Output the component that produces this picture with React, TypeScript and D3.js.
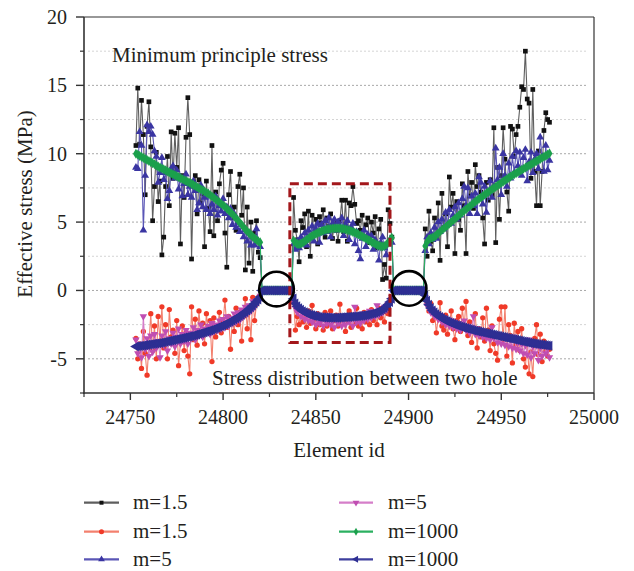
import React from "react";
import * as d3 from "d3";

// ---------- axes ----------
const X_DOMAIN = [24725, 25000];
const Y_DOMAIN = [-7.5, 20];
const X_TICKS = [24750, 24800, 24850, 24900, 24950, 25000];
const X_MINOR = [24725, 24775, 24825, 24875, 24925, 24975];
const Y_TICKS = [-5, 0, 5, 10, 15, 20];
const Y_MINOR = [-7.5, -2.5, 2.5, 7.5, 12.5, 17.5];
const GRID_MAJOR = [-5, 0, 5, 10, 15];
const GRID_MINOR = [-2.5, 2.5, 7.5, 12.5, 17.5];

// ---------- element ids (consecutive element numbers) ----------
const LEFT_IDS = d3.range(24753, 24821);
const HOLE1_IDS = d3.range(24821, 24838);
const MID_IDS = d3.range(24838, 24892);
const HOLE2_IDS = d3.range(24892, 24909);
const RIGHT_IDS = d3.range(24909, 24977);

const HOLE1_ZEROS = [0, 0, 0, 0, 0, 0, 0, 0, 0, 0, 0, 0, 0, 0, 0, 0, 0];
const HOLE2_ZEROS = [0, 0, 0, 0, 0, 0, 0, 0, 0, 0, 0, 0, 0, 0, 0, 0, 0];

// ---------- m=1.5 (upper, black) ----------
const BLACK_LEFT = [10.6, 14.8, 10.7, 13.9, 11.4, 7.0, 12.0, 13.8, 10.5, 5.1, 7.6, 10.1, 6.5, 8.0, 2.6, 3.9, 7.6, 9.8, 6.2, 11.6, 8.2, 11.5, 9.0, 11.9, 3.4, 8.4, 6.8, 11.2, 14.1, 11.4, 2.3, 7.9, 8.4, 5.6, 8.1, 6.4, 7.1, 3.2, 8.0, 6.0, 4.3, 10.6, 4.0, 7.2, 5.1, 7.8, 8.8, 9.3, 4.2, 1.7, 7.0, 8.7, 5.3, 6.1, 4.4, 7.6, 8.5, 5.5, 7.5, 1.5, 6.1, 2.0, 5.0, 1.4, 4.2, 5.1, 2.8, 2.4];
const BLACK_MID = [6.8, 4.4, 3.7, 2.1, 5.1, 4.6, 5.6, 3.2, 5.8, 2.5, 5.5, 4.1, 5.2, 3.4, 5.4, 4.9, 5.9, 3.9, 5.3, 4.7, 5.6, 3.8, 5.0, 4.4, 3.6, 5.1, 6.6, 4.3, 6.6, 3.6, 6.4, 6.2, 7.6, 6.3, 4.9, 5.1, 4.4, 5.5, 3.9, 4.8, 5.3, 3.5, 5.0, 4.2, 5.4, 3.1, 4.5, 5.2, 0.8, 1.9, 0.9, 5.9, 4.9, 3.9];
const BLACK_RIGHT = [4.5, 2.5, 5.8, 3.6, 2.9, 5.3, 3.9, 6.4, 2.2, 7.1, 4.6, 5.6, 3.2, 8.3, 6.1, 7.1, 2.7, 6.5, 5.2, 4.4, 7.8, 6.2, 2.7, 8.7, 6.9, 7.9, 6.0, 9.2, 7.6, 8.4, 7.2, 5.3, 3.4, 7.9, 6.6, 8.1, 7.0, 11.9, 3.5, 9.0, 5.2, 8.4, 11.9, 9.6, 7.2, 5.8, 12.0, 11.8, 9.8, 11.4, 12.0, 13.4, 14.9, 14.7, 17.5, 14.0, 13.7, 8.2, 14.7, 8.7, 6.2, 10.2, 6.2, 8.7, 11.7, 13.0, 12.5, 12.3];

// ---------- m=1.5 (lower, red) ----------
const RED_LEFT = [-3.5, -5.0, -3.9, -5.7, -3.0, -4.6, -6.2, -4.0, -1.7, -4.4, -2.6, -5.0, -1.9, -3.7, -1.2, -4.2, -2.5, -5.0, -1.4, -3.4, -2.9, -4.6, -2.2, -5.5, -3.8, -2.6, -4.4, -3.1, -4.8, -6.1, -1.2, -3.6, -2.1, -4.0, -1.5, -3.3, -2.4, -3.9, -1.7, -3.0, -2.2, -5.2, -2.0, -3.4, -2.8, -1.6, -3.1, -2.3, -0.7, -2.7, -1.9, -4.3, -2.1, -3.0, -1.3, -2.5, -1.6, -3.7, -1.9, -0.6, -2.8, -1.4, -3.6, -0.5, -2.2, -1.0, -0.5, -0.6];
const RED_MID = [-0.7, -2.9, -1.9, -2.5, -1.4, -2.3, -2.0, -2.7, -1.5, -2.4, -1.1, -2.2, -2.8, -1.7, -2.5, -2.0, -2.9, -1.6, -2.6, -2.1, -1.5, -2.8, -2.2, -1.8, -2.6, -1.0, -2.4, -1.9, -3.0, -2.2, -1.5, -2.7, -1.8, -2.4, -1.3, -2.6, -2.0, -2.8, -1.6, -2.3, -1.9, -2.5, -1.4, -2.2, -1.7, -2.5, -1.3, -2.0, -1.6, -2.3, -1.1, -1.7, -0.9, -0.5];
const RED_RIGHT = [-0.4, -0.9, -1.5, -0.95, -2.2, -1.6, -3.1, -2.0, -0.9, -2.6, -2.9, -1.8, -3.2, -2.4, -1.5, -2.8, -3.6, -2.2, -1.9, -3.0, -1.3, -2.6, -0.8, -3.3, -2.3, -3.8, -2.9, -1.7, -4.2, -2.8, -3.4, -2.0, -3.7, -1.3, -2.9, -4.4, -2.6, -3.9, -4.6, -5.1, -2.1, -1.2, -3.6, -1.2, -4.8, -2.5, -3.3, -5.3, -2.4, -4.0, -3.0, -4.4, -2.8, -5.0, -5.6, -3.8, -6.1, -4.5, -6.3, -3.5, -2.5, -4.7, -3.2, -5.2, -3.7, -4.4, -4.8, -4.3];

// ---------- m=5 (upper, blue) ----------
const BLUE_LEFT = [9.0, 8.9, 11.6, 10.6, 4.4, 8.4, 12.1, 11.6, 12.0, 11.4, 10.2, 9.8, 7.9, 8.6, 9.7, 8.1, 8.6, 6.7, 7.3, 8.9, 9.1, 8.2, 8.8, 7.4, 8.3, 6.9, 7.8, 8.5, 7.0, 7.6, 6.8, 8.0, 7.3, 5.9, 6.4, 7.7, 6.1, 6.8, 5.9, 7.1, 5.6, 6.3, 5.9, 6.9, 5.5, 6.2, 5.8, 6.7, 5.6, 6.1, 5.3, 6.0, 4.8, 5.6, 4.6, 5.0, 4.3, 4.8, 3.9, 4.4, 3.6, 4.2, 3.3, 3.9, 3.3, 4.5, 3.6, 3.2];
const BLUE_MID = [3.4, 3.0, 3.6, 3.1, 3.9, 3.4, 4.2, 3.3, 4.4, 3.8, 4.7, 3.6, 4.5, 4.9, 3.5, 4.8, 4.2, 5.1, 4.3, 5.3, 3.9, 4.9, 5.2, 4.4, 5.0, 4.6, 5.3, 4.0, 4.8, 5.1, 3.7, 4.6, 4.9, 3.4, 4.3, 2.9, 2.3, 3.8, 4.4, 3.2, 4.1, 3.6, 4.0, 3.0, 3.7, 3.3, 2.2, 3.5, 3.9, 3.1, 2.6, 3.4, 3.7, 3.5];
const BLUE_RIGHT = [2.9, 3.9, 3.4, 4.2, 3.7, 4.6, 3.8, 5.0, 4.3, 5.2, 4.5, 5.7, 4.8, 5.9, 4.9, 5.5, 6.1, 5.2, 6.4, 5.5, 6.7, 7.6, 6.2, 7.5, 5.6, 6.9, 6.2, 7.1, 5.6, 8.3, 7.9, 6.3, 7.6, 5.7, 7.1, 8.0, 6.8, 7.6, 10.4, 8.1, 9.0, 7.0, 10.0, 8.4, 7.6, 9.3, 8.2, 9.8, 8.6, 10.2, 9.1, 10.1, 8.4, 9.7, 10.3, 8.0, 9.4, 10.1, 8.6, 9.6, 10.0, 8.9, 11.2, 9.8, 8.7, 10.6, 8.8, 9.5];

// ---------- m=5 (lower, magenta) ----------
const PINK_LEFT = [-3.6, -4.6, -3.9, -4.9, -1.9, -4.3, -3.5, -4.8, -3.3, -4.5, -3.2, -4.2, -3.7, -4.9, -3.3, -4.0, -3.0, -4.4, -3.5, -3.9, -3.1, -4.1, -3.4, -2.8, -3.9, -3.2, -3.7, -2.9, -3.9, -3.1, -3.5, -2.7, -3.6, -2.9, -3.3, -2.5, -3.4, -2.8, -3.1, -2.6, -3.2, -2.4, -3.0, -2.5, -2.9, -2.2, -2.8, -2.1, -2.7, -1.9, -2.6, -2.0, -2.4, -1.7, -2.3, -1.6, -2.2, -1.4, -1.9, -1.2, -1.7, -1.1, -1.5, -0.8, -1.2, -0.7, -0.8, -0.4];
const PINK_MID = [-0.9, -1.3, -1.6, -1.4, -1.9, -1.6, -2.1, -1.8, -2.2, -1.7, -2.3, -2.0, -2.5, -1.9, -2.4, -2.1, -2.6, -2.0, -2.4, -1.8, -2.5, -2.2, -2.7, -2.0, -2.4, -1.9, -2.6, -2.1, -2.5, -1.8, -2.3, -2.0, -2.6, -1.2, -2.3, -1.9, -2.4, -1.7, -2.2, -1.8, -2.1, -1.5, -2.0, -1.6, -1.9, -1.1, -1.8, -1.4, -1.6, -1.2, -1.4, -1.0, -0.9, -0.5];
const PINK_RIGHT = [-0.5, -1.1, -1.3, -1.6, -1.4, -1.9, -1.7, -2.1, -1.8, -2.3, -2.0, -2.5, -2.1, -2.6, -2.2, -2.7, -2.3, -2.8, -2.4, -2.9, -2.5, -2.2, -2.9, -2.6, -3.1, -2.7, -1.9, -3.2, -2.8, -3.3, -2.9, -3.4, -3.0, -3.5, -3.1, -3.6, -2.7, -3.5, -3.2, -3.8, -3.3, -3.9, -3.4, -4.0, -3.5, -4.1, -3.6, -4.2, -3.4, -4.3, -3.8, -4.4, -3.9, -4.6, -4.0, -4.7, -3.6, -4.9, -4.1, -4.6, -4.0, -5.1, -4.2, -4.8, -3.9, -4.6, -4.2, -4.9];

// ---------- m=1000 (upper, green) ----------
const GREEN_LEFT = [10.0, 9.93, 9.85, 9.77, 9.7, 9.62, 9.54, 9.47, 9.39, 9.31, 9.23, 9.15, 9.06, 8.99, 8.92, 8.85, 8.78, 8.71, 8.64, 8.57, 8.5, 8.43, 8.36, 8.29, 8.22, 8.15, 8.08, 8.01, 7.94, 7.87, 7.8, 7.72, 7.64, 7.56, 7.48, 7.4, 7.32, 7.24, 7.16, 7.08, 6.98, 6.88, 6.78, 6.67, 6.56, 6.45, 6.34, 6.23, 6.12, 5.99, 5.86, 5.73, 5.59, 5.44, 5.29, 5.13, 4.97, 4.81, 4.64, 4.47, 4.33, 4.19, 4.06, 3.93, 3.81, 3.7, 3.6, 3.52];
const GREEN_MID = [3.65, 3.5, 3.4, 3.38, 3.42, 3.5, 3.6, 3.7, 3.8, 3.9, 3.99, 4.07, 4.14, 4.21, 4.27, 4.33, 4.38, 4.42, 4.46, 4.49, 4.51, 4.53, 4.54, 4.55, 4.55, 4.54, 4.52, 4.5, 4.47, 4.43, 4.39, 4.34, 4.29, 4.23, 4.17, 4.1, 4.03, 3.96, 3.88, 3.8, 3.72, 3.64, 3.56, 3.48, 3.41, 3.34, 3.28, 3.24, 3.22, 3.25, 3.35, 3.5, 3.68, 3.85];
const GREEN_RIGHT = [3.25, 3.55, 3.75, 3.82, 3.87, 3.93, 4.05, 4.18, 4.3, 4.42, 4.53, 4.64, 4.75, 4.88, 5.0, 5.12, 5.24, 5.36, 5.48, 5.6, 5.71, 5.83, 5.94, 6.05, 6.16, 6.27, 6.38, 6.49, 6.6, 6.7, 6.8, 6.9, 7.0, 7.1, 7.2, 7.3, 7.39, 7.49, 7.58, 7.68, 7.77, 7.86, 7.96, 8.05, 8.14, 8.23, 8.32, 8.41, 8.5, 8.58, 8.66, 8.74, 8.82, 8.9, 8.98, 9.06, 9.14, 9.22, 9.3, 9.38, 9.46, 9.54, 9.62, 9.7, 9.78, 9.86, 9.94, 10.02];

// ---------- m=1000 (lower, navy) ----------
const NAVY_LEFT = [-4.1, -4.08, -4.06, -4.04, -4.02, -4.0, -3.98, -3.96, -3.94, -3.92, -3.9, -3.88, -3.86, -3.84, -3.81, -3.78, -3.75, -3.72, -3.69, -3.66, -3.63, -3.6, -3.57, -3.54, -3.51, -3.48, -3.45, -3.42, -3.39, -3.36, -3.33, -3.29, -3.25, -3.21, -3.17, -3.13, -3.09, -3.05, -3.01, -2.97, -2.92, -2.87, -2.82, -2.77, -2.72, -2.66, -2.6, -2.54, -2.48, -2.41, -2.34, -2.27, -2.19, -2.11, -2.03, -1.95, -1.86, -1.77, -1.67, -1.57, -1.46, -1.35, -1.23, -1.1, -0.96, -0.81, -0.65, -0.48];
const NAVY_MID = [-0.6, -0.95, -1.15, -1.3, -1.42, -1.52, -1.6, -1.67, -1.73, -1.78, -1.82, -1.86, -1.89, -1.92, -1.94, -1.96, -1.97, -1.98, -1.99, -2.0, -2.0, -2.0, -2.0, -2.0, -1.99, -1.98, -1.97, -1.96, -1.95, -1.94, -1.93, -1.92, -1.91, -1.9, -1.89, -1.88, -1.86, -1.84, -1.82, -1.8, -1.77, -1.74, -1.71, -1.67, -1.63, -1.58, -1.52, -1.45, -1.37, -1.28, -1.17, -1.03, -0.85, -0.6];
const NAVY_RIGHT = [-0.35, -0.75, -1.05, -1.28, -1.46, -1.61, -1.74, -1.85, -1.95, -2.04, -2.12, -2.19, -2.26, -2.32, -2.38, -2.44, -2.49, -2.54, -2.59, -2.64, -2.68, -2.72, -2.76, -2.8, -2.84, -2.88, -2.92, -2.95, -2.98, -3.01, -3.04, -3.07, -3.1, -3.13, -3.16, -3.19, -3.22, -3.25, -3.28, -3.31, -3.34, -3.37, -3.4, -3.43, -3.46, -3.49, -3.52, -3.55, -3.58, -3.61, -3.64, -3.67, -3.7, -3.73, -3.76, -3.79, -3.82, -3.85, -3.87, -3.89, -3.91, -3.93, -3.95, -3.97, -3.99, -4.01, -4.03, -4.05];

// ---------- annotations ----------
const HOLE_CIRCLES = [
  { id: 24828.8, value: 0.1 },
  { id: 24900.3, value: 0.15 },
];
const BOX = { id0: 24836, id1: 24890, v0: -3.8, v1: 7.8 };

const LEGEND_LABELS = ["m=1.5", "m=1.5", "m=5", "m=5", "m=1000", "m=1000"];

type MarkerKind = "square" | "circle" | "triUp" | "triDown" | "diamond" | "triLeft";

const ID_SEGMENTS = [LEFT_IDS, HOLE1_IDS, MID_IDS, HOLE2_IDS, RIGHT_IDS];

const SERIES: {
  label: string;
  segments: number[][];
  marker: MarkerKind;
  fill: string;
  line: string;
  size: number;
  legendSize: number;
}[] = [
  { label: LEGEND_LABELS[0], segments: [BLACK_LEFT, HOLE1_ZEROS, BLACK_MID, HOLE2_ZEROS, BLACK_RIGHT], marker: "square", fill: "#111111", line: "#5e5e5e", size: 22, legendSize: 16 },
  { label: LEGEND_LABELS[1], segments: [RED_LEFT, HOLE1_ZEROS, RED_MID, HOLE2_ZEROS, RED_RIGHT], marker: "circle", fill: "#f03a28", line: "#f3806e", size: 22, legendSize: 20 },
  { label: LEGEND_LABELS[2], segments: [BLUE_LEFT, HOLE1_ZEROS, BLUE_MID, HOLE2_ZEROS, BLUE_RIGHT], marker: "triUp", fill: "#3a35a2", line: "#5a56b6", size: 26, legendSize: 20 },
  { label: LEGEND_LABELS[3], segments: [PINK_LEFT, HOLE1_ZEROS, PINK_MID, HOLE2_ZEROS, PINK_RIGHT], marker: "triDown", fill: "#c04eb2", line: "#d57ec9", size: 24, legendSize: 20 },
  { label: LEGEND_LABELS[4], segments: [GREEN_LEFT, HOLE1_ZEROS, GREEN_MID, HOLE2_ZEROS, GREEN_RIGHT], marker: "diamond", fill: "#1ba04c", line: "#2bb060", size: 30, legendSize: 18 },
  { label: LEGEND_LABELS[5], segments: [NAVY_LEFT, HOLE1_ZEROS, NAVY_MID, HOLE2_ZEROS, NAVY_RIGHT], marker: "triLeft", fill: "#2e2f93", line: "#3e3f9e", size: 44, legendSize: 22 },
];

const FONT = "'Liberation Serif', 'DejaVu Serif', serif";
const TEXT_COLOR = "#231f20";

function symbolPath(kind: MarkerKind, size: number): { d: string; rot: number } {
  switch (kind) {
    case "square":
      return { d: d3.symbol().type(d3.symbolSquare).size(size)() as string, rot: 0 };
    case "circle":
      return { d: d3.symbol().type(d3.symbolCircle).size(size)() as string, rot: 0 };
    case "triUp":
      return { d: d3.symbol().type(d3.symbolTriangle).size(size)() as string, rot: 0 };
    case "triDown":
      return { d: d3.symbol().type(d3.symbolTriangle).size(size)() as string, rot: 180 };
    case "diamond":
      return { d: d3.symbol().type(d3.symbolDiamond).size(size)() as string, rot: 0 };
    case "triLeft":
      return { d: d3.symbol().type(d3.symbolTriangle).size(size)() as string, rot: -90 };
  }
}

export default function App() {
  const W = 634;
  const H = 571;
  const L = 84, R = 594, T = 17, B = 393;

  const x = d3.scaleLinear().domain(X_DOMAIN).range([L, R]);
  const y = d3.scaleLinear().domain(Y_DOMAIN).range([B, T]);

  const seriesPts = SERIES.map((s) => {
    const pts: [number, number][] = [];
    s.segments.forEach((vals, si) => {
      const ids = ID_SEGMENTS[si];
      const n = Math.min(ids.length, vals.length);
      for (let i = 0; i < n; i++) pts.push([ids[i], vals[i]]);
    });
    return pts;
  });

  const lineGen = d3
    .line<[number, number]>()
    .x((d) => x(d[0]))
    .y((d) => y(d[1]));

  const legendCols = [
    { lx0: 84, lx1: 119, tx: 133 },
    { lx0: 339, lx1: 373, tx: 388 },
  ];
  const legendRows = [502.7, 531.7, 559.3];

  return (
    <svg
      width={W}
      height={H}
      viewBox={`0 0 ${W} ${H}`}
      style={{ position: "absolute", left: 0, top: 0, background: "#fff" }}
      fontFamily={FONT}
    >
      <rect x={0} y={0} width={W} height={H} fill="#fff" />

      {/* grid */}
      {GRID_MINOR.map((v) => (
        <line key={"gm" + v} x1={L + 4} x2={R - 6} y1={y(v)} y2={y(v)} stroke="#d4d4d4" strokeWidth={1} strokeDasharray="2,2" />
      ))}
      {GRID_MAJOR.map((v) => (
        <line key={"gM" + v} x1={L + 4} x2={R - 6} y1={y(v)} y2={y(v)} stroke="#a8a8a8" strokeWidth={1} strokeDasharray="2,2" />
      ))}

      {/* series */}
      {SERIES.map((s, i) => {
        const pts = seriesPts[i];
        const sym = symbolPath(s.marker, s.size);
        return (
          <g key={"s" + i}>
            <path d={lineGen(pts) as string} fill="none" stroke={s.line} strokeWidth={1.1} />
            {pts.map((p, j) => (
              <path
                key={j}
                d={sym.d}
                transform={`translate(${x(p[0])},${y(p[1])}) rotate(${sym.rot})`}
                fill={s.fill}
              />
            ))}
          </g>
        );
      })}

      {/* red dashed box */}
      <rect
        x={x(BOX.id0)}
        y={y(BOX.v1)}
        width={x(BOX.id1) - x(BOX.id0)}
        height={y(BOX.v0) - y(BOX.v1)}
        fill="none"
        stroke="#a3171b"
        strokeWidth={3}
        strokeDasharray="9,5"
      />

      {/* hole circles */}
      {HOLE_CIRCLES.map((c, i) => (
        <circle key={"c" + i} cx={x(c.id)} cy={y(c.value)} r={17.3} fill="none" stroke="#000" strokeWidth={2.6} />
      ))}

      {/* frame */}
      <line x1={L} x2={R} y1={T} y2={T} stroke="#333" strokeWidth={1.2} />
      <line x1={R} x2={R} y1={T} y2={B} stroke="#333" strokeWidth={1.2} />
      <line x1={L} x2={L} y1={T} y2={B + 0.7} stroke="#333" strokeWidth={1.6} />
      <line x1={L - 0.8} x2={R} y1={B} y2={B} stroke="#333" strokeWidth={1.6} />

      {/* y ticks */}
      {Y_TICKS.map((v) => (
        <g key={"yt" + v}>
          <line x1={L - 8} x2={L} y1={y(v)} y2={y(v)} stroke="#333" strokeWidth={1.4} />
          <text x={67} y={y(v) + 7} textAnchor="end" fontSize={20} fill={TEXT_COLOR}>
            {v}
          </text>
        </g>
      ))}
      {Y_MINOR.map((v) => (
        <line key={"ym" + v} x1={L - 4} x2={L} y1={y(v)} y2={y(v)} stroke="#333" strokeWidth={1.2} />
      ))}

      {/* x ticks */}
      {X_TICKS.map((v) => (
        <g key={"xt" + v}>
          <line x1={x(v)} x2={x(v)} y1={B} y2={B + 7} stroke="#333" strokeWidth={1.4} />
          <text x={x(v)} y={424} textAnchor="middle" fontSize={20} fill={TEXT_COLOR}>
            {v}
          </text>
        </g>
      ))}
      {X_MINOR.map((v) => (
        <line key={"xm" + v} x1={x(v)} x2={x(v)} y1={B} y2={B + 4} stroke="#333" strokeWidth={1.2} />
      ))}

      {/* axis titles */}
      <text x={(L + R) / 2} y={457} textAnchor="middle" fontSize={21} fill={TEXT_COLOR}>
        Element id
      </text>
      <text
        transform={`translate(32, ${(T + B) / 2 - 1}) rotate(-90)`}
        textAnchor="middle"
        fontSize={21}
        fill={TEXT_COLOR}
      >
        Effective stress (MPa)
      </text>

      {/* annotations */}
      <text x={112} y={61.5} fontSize={21} fill={TEXT_COLOR}>
        Minimum principle stress
      </text>
      <text x={212} y={385} fontSize={21} fill={TEXT_COLOR}>
        Stress distribution between two hole
      </text>

      {/* legend */}
      {SERIES.map((s, i) => {
        const col = legendCols[Math.floor(i / 3)];
        const ry = legendRows[i % 3];
        const sym = symbolPath(s.marker, s.legendSize);
        const mx = (col.lx0 + col.lx1) / 2;
        return (
          <g key={"lg" + i}>
            <line x1={col.lx0} x2={col.lx1} y1={ry} y2={ry} stroke={s.line} strokeWidth={2.2} />
            <path d={sym.d} transform={`translate(${mx},${ry}) rotate(${sym.rot})`} fill={s.fill} />
            <text x={col.tx} y={ry + 6.5} fontSize={21} fill={TEXT_COLOR}>
              {s.label}
            </text>
          </g>
        );
      })}
    </svg>
  );
}
